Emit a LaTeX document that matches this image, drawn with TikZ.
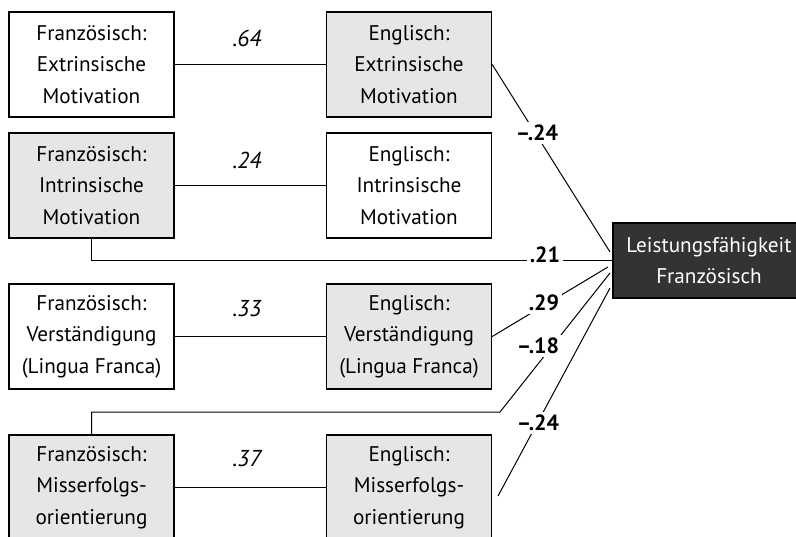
\documentclass[tikz,border=0pt]{standalone}
\usepackage{fontspec}
\setmainfont{PT Sans}
\definecolor{boxgrey}{HTML}{E6E6E6}
\definecolor{darkbox}{HTML}{333333}
\tikzset{
  box/.style={draw, line width=.7pt, align=center, inner sep=0pt,
    minimum width=82.5pt, minimum height=52.5pt,
    font=\fontsize{10.6}{15.8}\selectfont},
  greybox/.style={box, fill=boxgrey},
  outbox/.style={box, fill=darkbox, text=white,
    minimum width=96pt, minimum height=37.5pt},
  corr/.style={font=\fontsize{11.5}{13}\selectfont\itshape},
  coef/.style={font=\fontsize{11}{13}\selectfont\bfseries, fill=white, inner sep=1.5pt}
}
\begin{document}
\begin{tikzpicture}[x=.5pt, y=-.5pt, line width=.5pt]
        \useasboundingbox (0,0) rectangle (796,536);
        % boxes
        \node[box] (fe) at (91.5,64.5) {Französisch:\\Extrinsische\\Motivation};
        \node[greybox] (ee) at (409,64.5) {Englisch:\\Extrinsische\\Motivation};
        \node[greybox] (fi) at (91.5,185.5) {Französisch:\\Intrinsische\\Motivation};
        \node[box] (ei) at (409,185.5) {Englisch:\\Intrinsische\\Motivation};
        \node[box] (fv) at (91.5,336.5) {Französisch:\\Verständigung\\(Lingua Franca)};
        \node[greybox] (ev) at (409,336.5) {Englisch:\\Verständigung\\(Lingua Franca)};
        \node[greybox] (fm) at (91.5,487.5) {Französisch:\\Misserfolgs-\\orientierung};
        \node[greybox] (em) at (409,487.5) {Englisch:\\Misserfolgs-\\orientierung};
        \node[outbox] (lf) at (709,260.5) {Leistungsfähigkeit\\Französisch};
        \coordinate (t1) at (610,252);
        \coordinate (t3) at (608,267);
        \coordinate (t4) at (610,273);
        \coordinate (t5) at (610,288);
        \coordinate (k) at (500,412);
        \coordinate (s5) at (498,496);
        % correlations
        \draw (fe) -- (ee);
        \draw (fi) -- (ei);
        \draw (fv) -- (ev);
        \draw (fm) -- (em);
        \node[corr] (r1) at (247,38) {.64};
        \node[corr] (r2) at (247,160) {.24};
        \node[corr] (r3) at (247,309) {.33};
        \node[corr] (r4) at (247,459) {.37};
        % paths
        \draw (ee.east) -- (t1);
        \draw (fi.south) |- (lf.west);
        \draw (ev.east) -- (t3);
        \draw (fm.north) |- (k) -- (t4);
        \draw (s5) -- (t5);
        \node[coef] (c1) at (537,133) {–.24};
        \node[coef] (c2) at (545,255) {.21};
        \node[coef] (c3) at (544,303) {.29};
        \node[coef] (c4) at (538,346) {–.18};
        \node[coef] (c5) at (538,423) {–.24};
    \end{tikzpicture}
\end{document}
